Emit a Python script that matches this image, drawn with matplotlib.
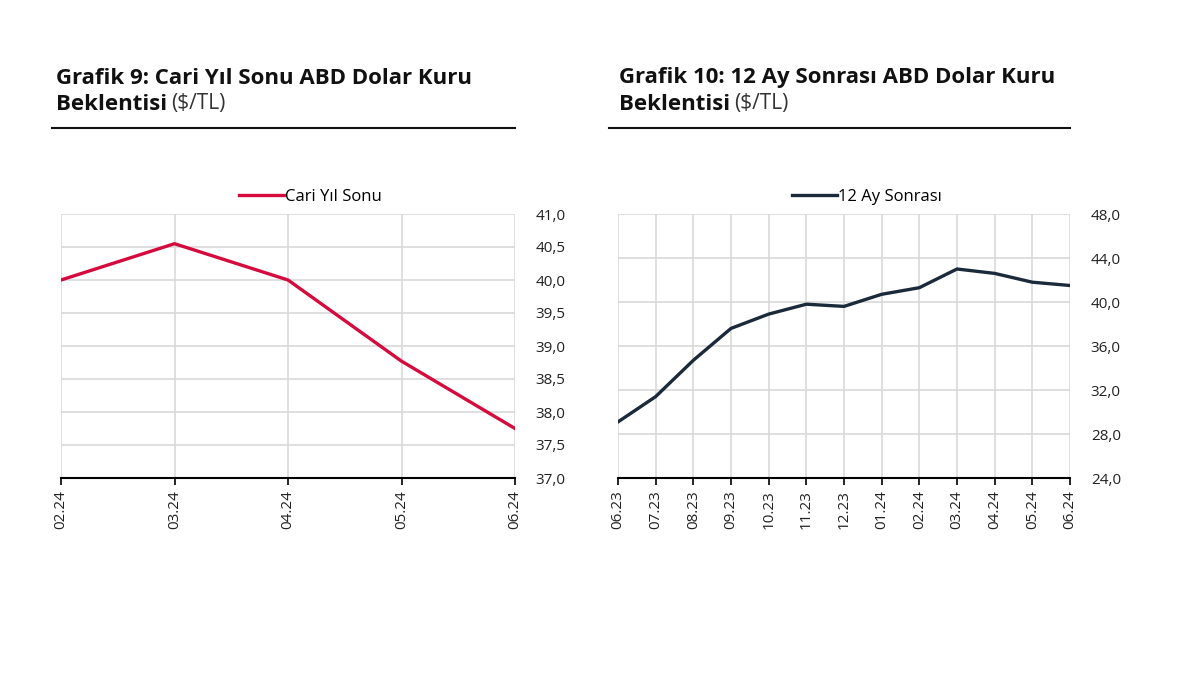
import matplotlib
matplotlib.use("Agg")
import matplotlib.pyplot as plt
from matplotlib.ticker import FuncFormatter

plt.rcParams['font.family'] = ['Open Sans', 'DejaVu Sans']

# Grafik 9 data
cari_labels = ['02.24', '03.24', '04.24', '05.24', '06.24']
cari_values = [40.0, 40.55, 40.0, 38.77, 37.75]

# Grafik 10 data
ay12_labels = ['06.23', '07.23', '08.23', '09.23', '10.23', '11.23', '12.23',
               '01.24', '02.24', '03.24', '04.24', '05.24', '06.24']
ay12_values = [29.1, 31.4, 34.7, 37.6, 38.9, 39.8, 39.6,
               40.7, 41.3, 43.0, 42.6, 41.8, 41.5]

red = '#d40b3c'
navy = '#1b2a3a'
comma_fmt = FuncFormatter(lambda v, p: f'{v:.1f}'.replace('.', ','))

fig = plt.figure(figsize=(12, 6.75), dpi=100)
W, H = 1200, 675


def draw_panel(left, right, labels, values, color, name, ylim, ystep,
               title1, title2, rule_x0, title_x):
    ax = fig.add_axes([left / W, 1 - 478 / H, (right - left) / W, (478 - 214) / H])
    x = list(range(len(labels)))
    ax.plot(x, values, color=color, lw=2.4, label=name, solid_joinstyle='round')
    ax.set_xlim(0, len(labels) - 1)
    ax.set_ylim(*ylim)
    yt = []
    v = ylim[0]
    while v <= ylim[1] + 1e-9:
        yt.append(v)
        v += ystep
    ax.set_yticks(yt)
    ax.yaxis.set_major_formatter(comma_fmt)
    ax.yaxis.tick_right()
    ax.set_xticks(x)
    ax.set_xticklabels(labels, rotation=90, fontsize=11, color='#222222')
    ax.tick_params(axis='y', length=0, labelsize=11, labelcolor='#222222', pad=15)
    ax.tick_params(axis='x', length=5, width=1.2, color='black', direction='out', pad=4)
    ax.grid(True, color='#d9d9d9', lw=1.2)
    for s in ['top', 'left', 'right']:
        ax.spines[s].set_visible(False)
    ax.spines['bottom'].set_color('black')
    ax.spines['bottom'].set_linewidth(1.5)
    ax.legend(loc='lower center', bbox_to_anchor=(0.55, 1.0), frameon=False,
              fontsize=12, handlelength=2.7, handletextpad=0.05,
              borderaxespad=0.15)
    # title block
    tx = title_x / W
    fig.text(tx, 1 - 78 / H, title1, fontsize=16, fontweight='bold',
             color='#111111', va='center')
    t2 = fig.text(tx, 1 - 104 / H, title2, fontsize=16, fontweight='bold',
                  color='#111111', va='center')
    fig.canvas.draw()
    bb = t2.get_window_extent()
    fig.text(bb.x1 / W + 0.003, 1 - 104 / H, '($/TL)', fontsize=15,
             color='#333333', va='center')
    fig.add_artist(plt.Line2D([rule_x0 / W, right / W], [1 - 128 / H, 1 - 128 / H],
                              color='#111111', lw=1.5))
    return ax


draw_panel(61, 515, cari_labels, cari_values, red, 'Cari Yıl Sonu',
           (37.0, 41.0), 0.5, 'Grafik 9: Cari Yıl Sonu ABD Dolar Kuru',
           'Beklentisi', 52, 56)
draw_panel(618, 1070, ay12_labels, ay12_values, navy, '12 Ay Sonrası',
           (24.0, 48.0), 4.0, 'Grafik 10: 12 Ay Sonrası ABD Dolar Kuru',
           'Beklentisi', 609, 619)

fig.savefig('out.png', dpi=100, facecolor='white')
